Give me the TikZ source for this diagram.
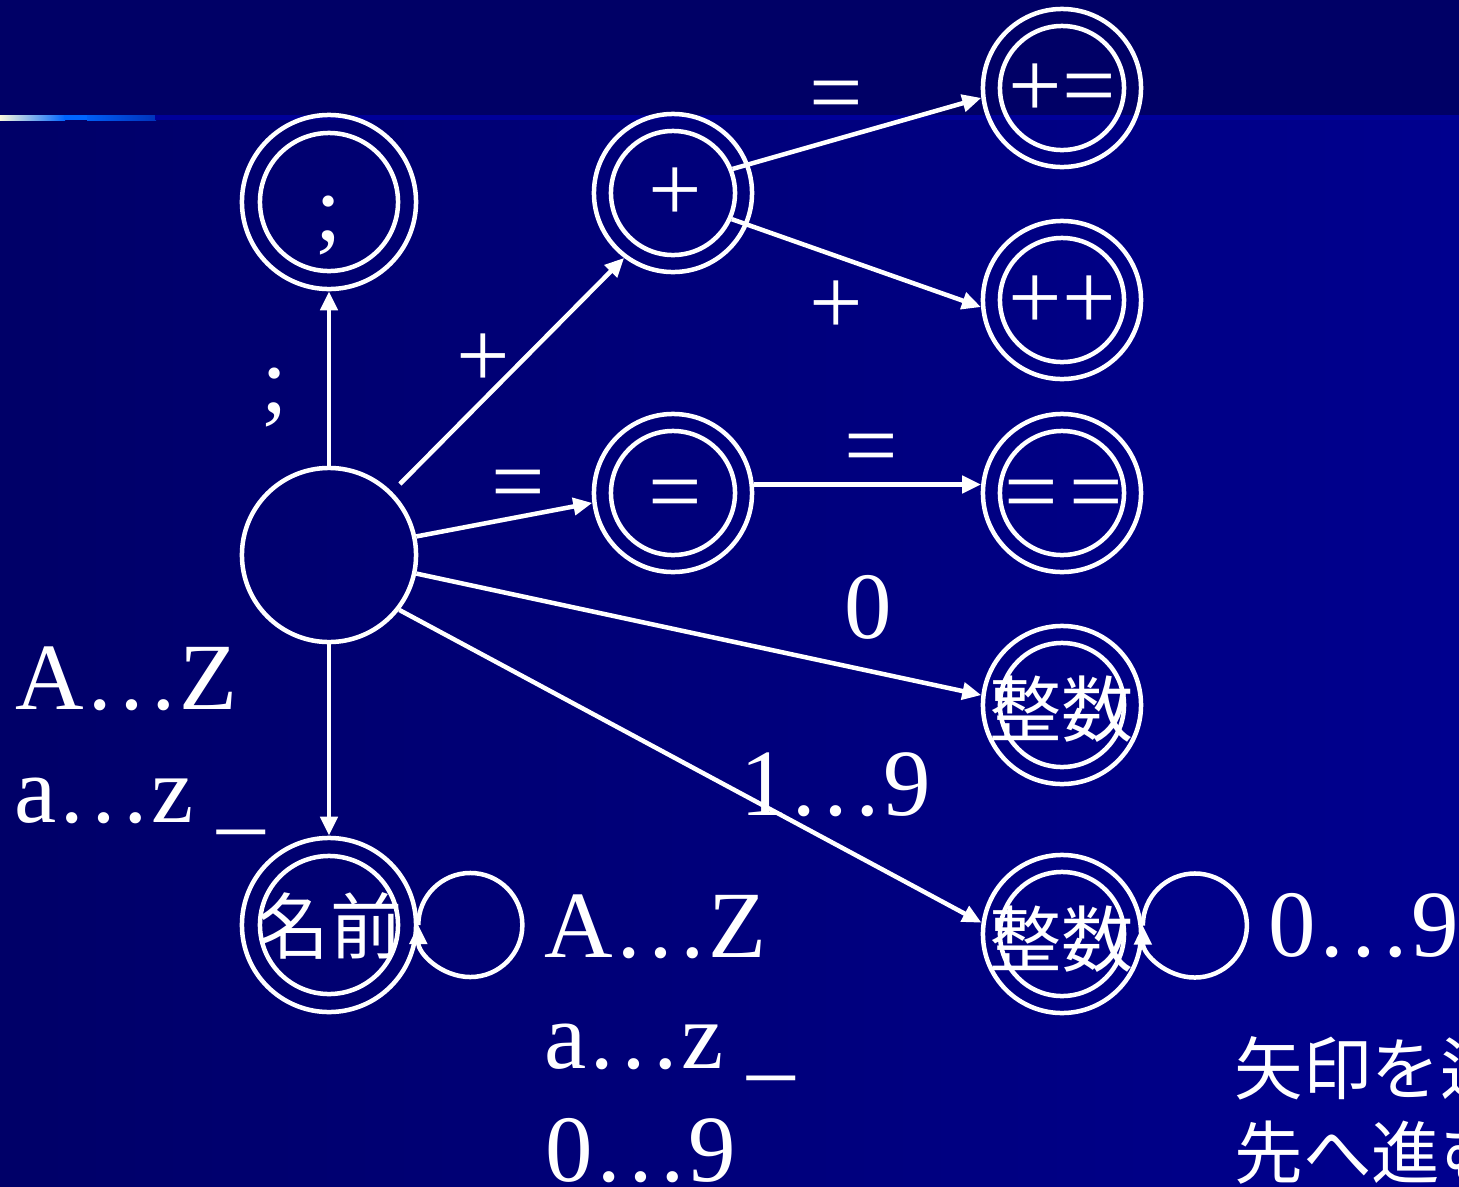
\documentclass[tikz,border=0pt]{standalone}
\usepackage{fontspec}
\setmainfont{Liberation Serif}
\newfontfamily\jpfont{Noto Sans CJK JP}
\usetikzlibrary{arrows.meta}
\definecolor{bgtop}{RGB}{0,0,102}
\definecolor{bgleft}{RGB}{0,0,104}
\definecolor{bgright}{RGB}{0,0,142}
\definecolor{lineblue}{RGB}{0,102,255}
\definecolor{linecream}{RGB}{250,248,220}
\definecolor{linedark}{RGB}{0,0,153}
\definecolor{linemid}{RGB}{0,51,187}
\begin{document}
\begin{tikzpicture}[x=0.01cm, y=0.01cm,
  lat/.style={font=\fontsize{27}{32}\selectfont, inner sep=0pt, text=white},
  cjk/.style={font=\jpfont\fontsize{20.5}{24}\selectfont, inner sep=0pt, text=white},
  cjks/.style={font=\jpfont\fontsize{19.5}{24}\selectfont, inner sep=0pt, text=white},
  bigouter/.style={circle, draw=white, line width=0.045cm, minimum size=1.74cm, inner sep=0pt},
  biginner/.style={circle, draw=white, line width=0.045cm, minimum size=1.38cm, inner sep=0pt},
  outerst/.style={circle, draw=white, line width=0.045cm, minimum size=1.58cm, inner sep=0pt},
  innerst/.style={circle, draw=white, line width=0.045cm, minimum size=1.24cm, inner sep=0pt},
  conn/.style={draw=white, line width=0.045cm, -{Triangle[length=0.19cm, width=0.17cm]}},
]
\useasboundingbox (0,0) rectangle (1459,-1187);
\clip (0,0) rectangle (1459,-1187);
% background
\fill[bgtop] (0,0) rectangle (1459,-117);
\shade[left color=bgleft, right color=bgright] (0,-117) rectangle (1459,-1187);
\shade[left color=linecream, right color=lineblue] (0,-115) rectangle (65,-120);
\fill[lineblue] (64,-115) rectangle (88,-120);
\shade[left color=lineblue!85!linemid, right color=linemid] (87,-115) rectangle (156,-120);
\fill[linedark] (155,-115) rectangle (1459,-120);

% states
\node[bigouter] (S) at (329,-555) {};
\node[bigouter] (Semi) at (329,-202) {};
\node[biginner] (Semii) at (329,-202) {};
\node[lat, anchor=base] (Semit) at (329,-240) {;};
\node[outerst] (P) at (673,-193) {};
\node[innerst] (Pi) at (673,-193) {};
\node[lat, anchor=base] (Pt) at (675,-221) {+};
\node[outerst] (PE) at (1062,-88) {};
\node[innerst] (PEi) at (1062,-88) {};
\node[lat, anchor=base] (PEt) at (1062,-117) {+=};
\node[outerst] (PP) at (1062,-300) {};
\node[innerst] (PPi) at (1062,-300) {};
\node[lat, anchor=base] (PPt) at (1062,-329) {++};
\node[outerst] (E) at (673,-493) {};
\node[innerst] (Ei) at (673,-493) {};
\node[lat, anchor=base] (Et) at (675,-523) {=};
\node[outerst] (EE) at (1062,-493) {};
\node[innerst] (EEi) at (1062,-493) {};
\node[lat, anchor=base] (EEt) at (1064,-523) {=\kern0.12cm=};
\node[outerst] (I1) at (1062,-705) {};
\node[innerst] (I1i) at (1062,-705) {};
\node[cjk, anchor=base] (I1t) at (1062,-736) {整数};
\node[outerst] (I2) at (1062,-934) {};
\node[innerst] (I2i) at (1062,-934) {};
\node[cjk, anchor=base] (I2t) at (1062,-966) {整数};
\node[bigouter] (N) at (329,-925) {};
\node[biginner] (Ni) at (329,-925) {};
\node[cjk, anchor=base] (Nt) at (330,-953) {名前};

% connectors
\draw[conn] (S.north) -- (Semi.south);
\draw[conn, shorten <=0.11cm] (S.45) -- (P.233);
\draw[conn] (S.12) -- (E.187);
\draw[conn] (Pi.22) -- (PE.187);
\draw[conn] (Pi.-24) -- (PP.185);
\draw[conn] (E.6) -- (EE.174);
\draw[conn] (S.-12) -- (I1.173);
\draw[conn] (S.-38) -- (I2.172);
\draw[conn] (S.south) -- (N.north);
\draw[conn] (N.east) arc[start angle=180, end angle=-180, radius=0.52cm];
\draw[conn] (I2.6) arc[start angle=180, end angle=-180, radius=0.52cm];

% edge labels
\node[lat, anchor=base] (l1) at (275,-412) {;};
\node[lat, anchor=base] (l2) at (483,-387) {+};
\node[lat, anchor=base] (l3) at (518,-513) {=};
\node[lat, anchor=base] (l4) at (836,-124) {=};
\node[lat, anchor=base] (l5) at (836,-334) {+};
\node[lat, anchor=base] (l6) at (871,-477) {=};
\node[lat, anchor=base] (l7) at (868,-638) {0};
\node[lat, anchor=base west] (l8) at (740,-815) {1…9};
\node[lat, anchor=base west] (l9) at (15,-709) {A…Z};
\node[lat, anchor=base west] (l10) at (14,-822) {a…z \_};
\node[lat, anchor=base west] (l11) at (544,-957) {A…Z};
\node[lat, anchor=base west] (l12) at (544,-1068) {a…z \_};
\node[lat, anchor=base west] (l13) at (545,-1181) {0…9};
\node[lat, anchor=base west] (l14) at (1268,-956) {0…9};
\node[cjks, anchor=base west] (jp1) at (1234,-1094) {矢印を辿};
\node[cjks, anchor=base west] (jp2) at (1234,-1178) {先へ進む};
\end{tikzpicture}
\end{document}
